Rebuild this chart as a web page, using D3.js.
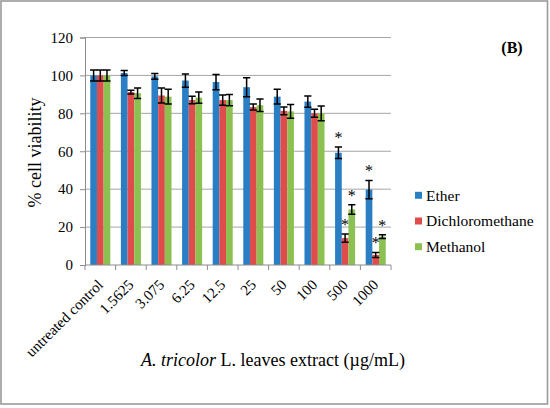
<!DOCTYPE html>
<html><head><meta charset="utf-8">
<script src="https://cdn.jsdelivr.net/npm/d3@7"></script>
<style>body{margin:0;background:#fff}svg{display:block}text{font-family:"Liberation Serif","Times New Roman",serif;fill:#000}</style>
</head><body>
<script>
const categories = ["untreated control","1.5625","3.075","6.25","12.5","25","50","100","500","1000"];
const seriesNames = ["Ether","Dichloromethane","Methanol"];
const etherValues = [100,101.3,99.5,97.3,96.5,93.8,88.8,86.2,59.2,39.8];
const etherErrors = [2.9,1.3,1.5,3.5,4,5,3.9,3,3,4.8];
const dcmValues = [100,91.2,89.4,87,87,83.3,81.3,80,14.2,5.3];
const dcmErrors = [2.9,1,4,2,2.7,1.6,2.1,2.1,2.2,1.3];
const methanolValues = [100,90.6,88.8,88.3,87,84.3,81,80,29.3,15];
const methanolErrors = [2.9,2.8,3.9,3,3,3.3,3.6,3.9,2.5,1];
const etherStars = [0,0,0,0,0,0,0,0,1,1];
const dcmStars = [0,0,0,0,0,0,0,0,1,1];
const methanolStars = [0,0,0,0,0,0,0,0,1,1];
const yTicks = [0,20,40,60,80,100,120];
const colors = ["#2a7fc4","#e04c4c","#8cc152"];

const values = [etherValues, dcmValues, methanolValues];
const errors = [etherErrors, dcmErrors, methanolErrors];
const stars = [etherStars, dcmStars, methanolStars];

const W = 550, H = 408;
const mLeft = 85, mRight = 391, mTop = 37.5, mBottom = 265;
const svg = d3.select("body").append("svg").attr("width", W).attr("height", H);

svg.append("rect").attr("x",1).attr("y",1).attr("width",546.5).attr("height",403)
  .attr("fill","#fff").attr("stroke","#9a9a9a").attr("stroke-width",1.6);

const x0 = d3.scaleBand().domain(categories).range([mLeft,mRight]).padding(0);
const bw = x0.bandwidth();
const groupW = bw*0.655;
const x1 = d3.scaleBand().domain(seriesNames).range([(bw-groupW)/2,(bw+groupW)/2]).padding(0);
const y = d3.scaleLinear().domain([0,120]).range([mBottom,mTop]);

// gridlines
svg.append("g").selectAll("line").data(yTicks.filter(t=>t>0)).join("line")
  .attr("x1",mLeft).attr("x2",mRight).attr("y1",d=>y(d)).attr("y2",d=>y(d))
  .attr("stroke","#a6a6a6").attr("stroke-width",1);

// y axis
const yAxis = svg.append("g").attr("transform",`translate(${mLeft},0)`)
  .call(d3.axisLeft(y).tickValues(yTicks).tickSize(5).tickPadding(7).tickFormat(d3.format("d")));
yAxis.attr("font-family",null);
yAxis.select(".domain").attr("stroke","#8c8c8c");
yAxis.selectAll(".tick line").attr("stroke","#8c8c8c");
yAxis.selectAll("text").attr("font-size","15px");

// bars
const groups = svg.append("g").selectAll("g").data(categories).join("g")
  .attr("transform",d=>`translate(${x0(d)},0)`);
seriesNames.forEach((s,si)=>{
  groups.append("rect")
    .attr("x",x1(s)).attr("width",x1.bandwidth())
    .attr("y",(d,i)=>y(values[si][i])).attr("height",(d,i)=>mBottom-y(values[si][i]))
    .attr("fill",colors[si]);
});
// error bars
seriesNames.forEach((s,si)=>{
  const cx = x1(s)+x1.bandwidth()/2;
  const cap = 3.6;
  groups.append("path")
    .attr("d",(d,i)=>{
      const v=values[si][i], e=errors[si][i];
      const yt=y(v+e), yb=y(v-e);
      return `M${cx},${yt}V${yb}M${cx-cap},${yt}H${cx+cap}M${cx-cap},${yb}H${cx+cap}`;
    })
    .attr("stroke","#000").attr("stroke-width",1.5).attr("fill","none");
  groups.filter((d,i)=>stars[si][i]).append("text")
    .attr("x",cx)
    .attr("y",d=>{const i=categories.indexOf(d);return y(values[si][i]+errors[si][i])-12+8;})
    .attr("text-anchor","middle").attr("font-size","16px").text("*");
});

// x axis
const xAxis = svg.append("g").attr("transform",`translate(0,${mBottom})`);
xAxis.append("line").attr("x1",mLeft).attr("x2",mRight).attr("y1",0).attr("y2",0).attr("stroke","#8c8c8c");
xAxis.selectAll(".xt").data(categories.concat(["__end"])).join("line")
  .attr("x1",d=>d==="__end"?mRight:x0(d)).attr("x2",d=>d==="__end"?mRight:x0(d))
  .attr("y1",0).attr("y2",5).attr("stroke","#8c8c8c");
xAxis.selectAll(".xl").data(categories).join("text")
  .attr("transform",d=>`translate(${x0(d)+bw/2},${17}) rotate(-45)`)
  .attr("text-anchor","end").attr("dy","0.35em").attr("font-size","15px").text(d=>d);

// axis titles
svg.append("text").attr("transform","translate(41,152.5) rotate(-90)")
  .attr("text-anchor","middle").attr("font-size","18px").text("% cell viability");
const xt = svg.append("text").attr("x",273).attr("y",366).attr("text-anchor","middle").attr("font-size","18px");
xt.append("tspan").attr("font-style","italic").text("A. tricolor");
xt.append("tspan").text(" L. leaves extract (µg/mL)");

svg.append("text").attr("x",512).attr("y",53).attr("text-anchor","middle")
  .attr("font-size","16px").attr("font-weight","bold").text("(B)");

// legend
const lg = svg.append("g").selectAll("g").data(seriesNames).join("g")
  .attr("transform",(d,i)=>`translate(415,${195.3+i*25.7})`);
lg.append("rect").attr("x",0).attr("y",-3.5).attr("width",7).attr("height",7).attr("fill",(d,i)=>colors[i]);
lg.append("text").attr("x",11).attr("dy","0.35em").attr("font-size","15.5px").text(d=>d);
</script>
</body></html>
